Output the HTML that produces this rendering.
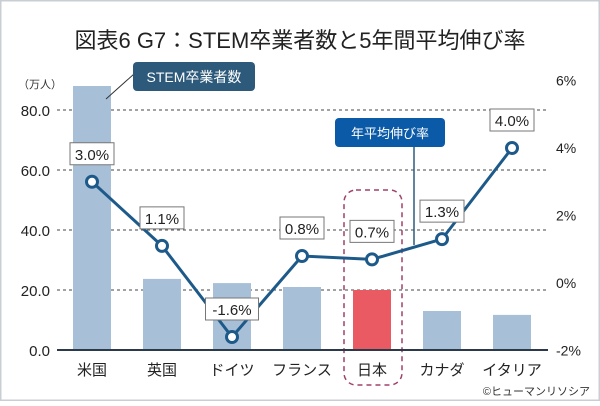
<!DOCTYPE html>
<html><head><meta charset="utf-8"><style>
body{margin:0;background:#fff}
svg text{font-family:"Liberation Sans","Noto Sans CJK JP",sans-serif}
</style></head><body>
<svg id="c" width="600" height="401" viewBox="0 0 600 401">
<rect x="0.5" y="0.5" width="599" height="400" fill="#fff" stroke="#c9ced3" stroke-width="2"/>
<text x="300" y="48" text-anchor="middle" font-size="22" fill="#222">図表6 G7：STEM卒業者数と5年間平均伸び率</text>
<text x="18" y="88" font-size="11" fill="#333">（万人）</text>
<g id="grid"></g><g id="bars"></g>
<rect x="344" y="190" width="58" height="195" rx="12" fill="none" stroke="#a0406a" stroke-width="1.5" stroke-dasharray="5,4"/>
<line x1="57" y1="350" x2="548" y2="350" stroke="#2a3a4a" stroke-width="2"/>
<g id="line"></g><g id="labels"></g>
<line x1="106" y1="99" x2="134" y2="74" stroke="#333" stroke-width="1"/>
<rect x="133" y="62" width="122" height="29" rx="4" fill="#2d5a7b"/>
<text x="194" y="82" text-anchor="middle" font-size="14" fill="#fff">STEM卒業者数</text>
<line x1="414" y1="147" x2="414" y2="245" stroke="#2d5a7b" stroke-width="1.5"/>
<rect x="335" y="118" width="110" height="29" rx="4" fill="#0b5aa8"/>
<text x="390" y="138" text-anchor="middle" font-size="13" fill="#fff">年平均伸び率</text>
<text x="590" y="395" text-anchor="end" font-size="11" fill="#333">©ヒューマンリソシア</text>
</svg>
<script>
const categories=["米国","英国","ドイツ","フランス","日本","カナダ","イタリア"];
const graduates=[88,23.7,22.3,21,20,13,11.7];
const growth=[3.0,1.1,-1.6,0.8,0.7,1.3,4.0];
const growthLabels=["3.0%","1.1%","-1.6%","0.8%","0.7%","1.3%","4.0%"];
const leftTicks=[0,20,40,60,80];
const rightTicks=[-2,0,2,4,6];
const NS="http://www.w3.org/2000/svg";
const yL=v=>350-v*3, yR=v=>283-v*33.75, xC=i=>92+i*70;
function mk(p,t,a){const e=document.createElementNS(NS,t);for(const k in a)e.setAttribute(k,a[k]);document.getElementById(p).appendChild(e);return e;}
leftTicks.forEach(t=>{
 if(t>0){const g=mk("grid","line",{x1:57,x2:548,y1:yL(t),y2:yL(t),stroke:"#444","stroke-width":1,"stroke-dasharray":"3,3"});
 
 }
 const l=mk("grid","text",{x:50,y:yL(t)+6,"text-anchor":"end","font-size":15,fill:"#222"});l.textContent=t.toFixed(1);
 
 
});
rightTicks.forEach(t=>{const l=mk("grid","text",{x:556,y:yR(t)+5,"font-size":14,fill:"#222"});l.textContent=t+"%";
 
 });
categories.forEach((c,i)=>{
 const b=mk("bars","rect",{x:xC(i)-19,y:yL(graduates[i]),width:38,height:350-yL(graduates[i]),fill:i==4?"#e95a62":"#a8bfd8"});
 
 
 const t=mk("bars","text",{x:xC(i),y:375,"text-anchor":"middle","font-size":15,fill:"#222"});t.textContent=c;
 
 
});
const pl=mk("line","polyline",{points:growth.map((v,i)=>xC(i)+","+yR(v)).join(" "),fill:"none",stroke:"#1d5a8a","stroke-width":3});


growth.forEach((v,i)=>{
 const c=mk("line","circle",{cx:xC(i),cy:yR(v),r:5.5,fill:"#fff",stroke:"#1d5a8a","stroke-width":3});
 
 
 const w=growthLabels[i].length*9+8, cy=yR(v)-28;
 const r=mk("labels","rect",{x:xC(i)-w/2,y:cy-11,width:w,height:22,fill:"#fff",stroke:"#777","stroke-width":1});
 
 
 const t=mk("labels","text",{x:xC(i),y:cy+6,"text-anchor":"middle","font-size":15,fill:"#222"});t.textContent=growthLabels[i];
 
 
});
</script>
</body></html>
